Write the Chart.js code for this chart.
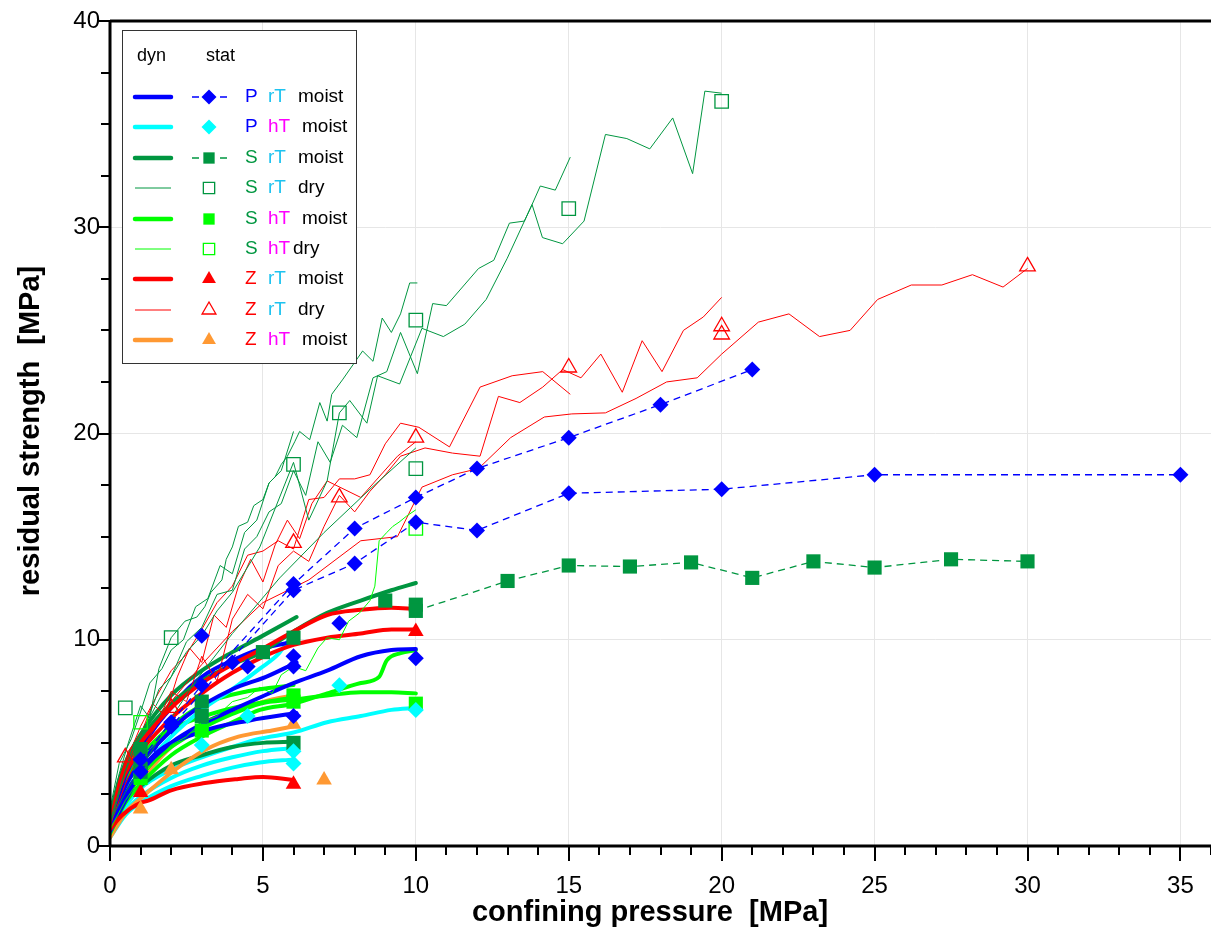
<!DOCTYPE html>
<html>
<head>
<meta charset="utf-8">
<title>residual strength</title>
<script src="https://cdn.jsdelivr.net/npm/chart.js@4.4.1/dist/chart.umd.min.js"></script>
<style>
    html, body { margin: 0; padding: 0; background: #fff; }
    #chartRest { display: block; }
</style>
</head>
<body>
<canvas id="chartRest" width="1211" height="930"></canvas>
<script>
// Achsen
const xMin = 0, xMax = 36;
const yMin = 0, yMax = 40;

// statische Versuche (Marker), [Manteldruck, Reststaerke]
const pRtMoistA = [[1, 4.2], [3, 7.8], [6, 12.7], [8, 15.4], [10, 16.9], [12, 18.3], [15, 19.8], [18, 21.4], [21, 23.1]];
const pRtMoistB = [[1, 3.6], [2, 5.8], [6, 12.4], [8, 13.7], [10, 15.7], [12, 15.3], [15, 17.1], [20, 17.3], [25, 18.0], [35, 18.0]];
const pRtMoistPts = [[2, 6.0], [3, 10.2], [4, 8.9], [4.5, 8.7], [6, 9.2], [6, 8.7], [6, 6.3], [7.5, 10.8], [10, 9.1]];
const pHtMoistPts = [[3, 4.9], [4.5, 6.3], [6, 4.6], [6, 4.0], [7.5, 7.8], [10, 6.6]];
const sRtMoistA = [[10, 11.4], [13, 12.85], [15, 13.6], [17, 13.55], [19, 13.75], [21, 13.0], [23, 13.8], [25, 13.5], [27.5, 13.9], [30, 13.8]];
const sRtMoistPts = [[1, 4.7], [1, 4.0], [1, 3.6], [3, 7.0], [3, 6.3], [5, 9.4], [6, 10.1], [6, 5.0], [9, 11.9], [10, 11.7]];
const sRtDryPts = [[0.5, 6.7], [2, 10.1], [6, 18.5], [7.5, 21.0], [10, 25.5], [10, 18.3], [15, 30.9], [20, 36.1]];
const sHtMoistPts = [[1, 3.3], [3, 5.6], [6, 7.3], [6, 7.0], [10, 6.9]];
const sHtDryPts = [[1, 6.0], [10, 15.4]];
const zRtMoistPts = [[1, 2.6], [6, 3.0], [10, 10.4]];
const zRtDryPts = [[0.5, 4.3], [2, 6.7], [6, 14.7], [7.5, 16.9], [10, 19.8], [15, 23.2], [20, 25.2], [20, 24.8], [30, 28.1]];
const zHtMoistPts = [[1, 1.8], [2, 3.7], [6, 5.9], [7, 3.2]];

// dynamische Versuche, feucht (dicke Linien)
const pRtDyn1 = [[0, 0.8], [0.5, 2.5], [1, 3.6], [2, 5.0], [3, 5.9], [4, 6.6], [4.9, 7.2], [6, 7.9], [7.1, 8.5], [8.2, 9.2], [9.2, 9.5], [10, 9.55]];
const pRtDyn2 = [[0, 1.1], [0.5, 3.4], [1, 4.7], [1.5, 5.8], [2, 6.7], [2.6, 7.7], [3.2, 8.4], [4, 9.0], [4.8, 9.5], [6, 9.9]];
const pRtDyn3 = [[0, 0.9], [0.5, 2.9], [1, 4.0], [2, 5.6], [2.5, 6.3], [4, 7.6], [5.1, 8.2], [6.1, 8.9]];
const pRtDyn4 = [[0, 0.7], [0.5, 2.2], [1.3, 4.2], [2.9, 5.5], [4.6, 6.1], [6.1, 6.45]];
const pHtDyn1 = [[0, 0.5], [0.5, 1.9], [1, 2.8], [2, 3.7], [3, 4.3], [4, 4.8], [4.9, 5.2], [6, 5.5], [7.1, 6.0], [8.2, 6.3], [9.2, 6.6], [10, 6.7]];
const pHtDyn2 = [[0, 0.4], [0.5, 1.5], [1, 2.1], [2, 2.9], [3, 3.4], [4, 3.8], [4.9, 4.05], [6, 4.2]];
const pHtDyn3 = [[0, 0.5], [0.5, 1.7], [1, 2.4], [2, 3.3], [3, 3.9], [4, 4.3], [5, 4.6], [6, 4.75]];
const pHtDyn4 = [[0, 0.7], [0.5, 2.5], [1, 3.6], [2, 5.3], [3, 6.6], [4, 7.6], [4.9, 8.6], [5.5, 9.3], [5.8, 9.9]];
const sRtDyn1 = [[0, 1.4], [0.3, 3.2], [0.6, 4.3], [1, 5.2], [2, 6.9], [3, 8.0], [4, 8.8], [4.9, 9.35], [6, 10.4], [7.1, 11.3], [8.2, 11.9], [9.2, 12.4], [10, 12.75]];
const sRtDyn2 = [[0, 0.7], [0.5, 2.2], [1, 2.9], [2, 3.9], [3, 4.4], [4, 4.8], [5, 5.0], [6, 5.05]];
const sRtDyn3 = [[0, 1.5], [0.5, 4.0], [1, 5.4], [2, 7.3], [3, 8.5], [4, 9.4], [5, 10.2], [6.1, 11.1]];
const sHtDyn1 = [[0, 0.8], [0.5, 2.6], [1, 3.5], [2, 4.8], [3, 5.7], [4, 6.4], [4.9, 6.9], [6, 7.1], [7.1, 7.3], [8.2, 7.45], [9.2, 7.45], [10, 7.4]];
const sHtDyn2 = [[0, 0.6], [0.5, 2.1], [1, 3.0], [2, 4.4], [3, 5.3], [4, 6.0], [4.9, 6.6], [6, 6.9], [7.1, 7.4], [8.2, 7.9], [8.8, 8.2], [9.05, 9.0], [9.5, 9.35], [10, 9.5]];
const sHtDyn3 = [[0, 0.9], [0.5, 2.9], [1, 4.0], [2, 5.6], [3.1, 6.3], [4.2, 6.75], [6, 7.2]];
const sHtDyn4 = [[0, 1.0], [0.5, 3.1], [1, 4.3], [2, 5.8], [3.1, 6.9], [4.5, 7.5], [6, 7.8]];
const zRtDyn1 = [[0, 1.3], [0.3, 3.0], [0.6, 4.1], [1, 5.0], [2, 6.7], [3, 7.9], [4, 8.8], [4.9, 9.5], [6, 10.4], [7.1, 11.2], [8.2, 11.45], [9.2, 11.55], [10, 11.5]];
const zRtDyn2 = [[0, 1.2], [0.3, 2.8], [0.6, 3.8], [1, 4.6], [2, 6.2], [3, 7.4], [4, 8.4], [4.9, 9.1], [6, 9.75], [7.1, 10.1], [8.2, 10.3], [9.2, 10.5], [10, 10.5]];
const zRtDyn3 = [[0, 0.8], [0.4, 1.5], [1, 2.1], [1.25, 2.2], [2, 2.7], [3.1, 3.05], [4.2, 3.25], [5, 3.35], [6, 3.2]];
const zHtDyn1 = [[0, 0.6], [0.5, 2.3], [1, 3.2], [2, 4.8], [3.1, 6.0], [4.2, 6.6], [5.3, 7.1], [6, 7.3]];
const zHtDyn2 = [[0, 0.4], [0.5, 1.6], [1, 2.3], [2, 3.55], [3.1, 4.65], [4.2, 5.3], [5.3, 5.6], [6, 5.8]];

// dynamische Versuche, trocken (duenne Linien)
const sRtDry1 = [[0, 1.6], [0.3, 3.5], [0.6, 5.0], [1, 6.8], [1.3, 6.2], [1.6, 8.6], [2, 10.1], [2.45, 10.9], [2.84, 11.1], [3.1, 11.6], [3.3, 12.3], [3.66, 12.9], [3.8, 13.9], [4.0, 14.5], [4.2, 15.5], [4.5, 15.7], [4.7, 16.5], [5.0, 16.8], [5.2, 17.6], [5.4, 17.9], [5.6, 18.5], [5.8, 18.9], [6.04, 19.6], [6.2, 20.1], [6.53, 19.7], [6.86, 21.5], [7.1, 20.6], [7.25, 21.9], [7.6, 22.6], [8.26, 24.0], [8.6, 23.5], [8.9, 25.6], [9.2, 24.9], [9.5, 25.8], [9.8, 27.3], [10.05, 27.3]];
const sRtDry2 = [[0, 1.2], [0.4, 3.2], [0.8, 5.0], [1.2, 6.0], [1.6, 7.6], [2, 8.2], [2.5, 9.9], [3, 10.6], [3.5, 12.2], [4, 12.4], [4.4, 14.4], [4.8, 15.0], [5.2, 16.2], [5.6, 16.6], [6, 18.2], [6.4, 17.0], [6.8, 19.6], [7.2, 18.6], [7.6, 20.4], [8.07, 19.8], [8.6, 22.7], [9.05, 23.0], [9.5, 24.9], [10.05, 22.9], [10.55, 26.3], [11.0, 26.2], [12.05, 28.0], [12.55, 28.4], [13.06, 30.2], [13.55, 30.3], [13.8, 31.1], [14.07, 32.0], [14.56, 31.8], [15.05, 33.4]];
const sRtDry3 = [[0, 1.0], [0.5, 3.6], [1, 5.4], [1.5, 6.8], [2, 8.2], [2.5, 9.4], [3, 10.2], [3.5, 11.4], [4, 12.3], [4.9, 14.5], [6, 18.6], [6.5, 15.8], [7.1, 17.7], [7.5, 21.0], [7.84, 21.6], [8.4, 20.5], [8.75, 22.8], [9.47, 22.4], [10.2, 25.1], [10.9, 24.7], [11.6, 25.3], [12.3, 26.5], [12.99, 28.5], [13.8, 31.1], [14.14, 29.5], [14.8, 29.2], [15.5, 30.3], [16.2, 34.5], [16.9, 34.3], [17.65, 33.8], [18.4, 35.3], [19.05, 32.6], [19.45, 36.6], [20, 36.5]];
const sRtDry4 = [[0, 1.2], [0.5, 2.6], [1, 3.7], [2, 6.2], [2.8, 8.0], [4, 10.3], [5.55, 13.0], [7, 15.2], [8.5, 17.3], [10, 19.3]];
const sRtDry5 = [[0, 1.8], [0.3, 4.0], [0.7, 5.2], [1, 6.5], [1.3, 7.9], [1.7, 8.6], [2, 9.5], [2.4, 10.0], [2.8, 11.6], [3.2, 12.0], [3.6, 13.6], [4, 13.2], [4.4, 15.2], [4.8, 15.8], [5.2, 17.6], [5.6, 18.2], [6, 20.1]];
const sHtDry1 = [[0, 0.8], [0.5, 2.2], [1, 3.3], [1.5, 4.1], [2, 4.9], [2.5, 5.3], [3, 6.0], [3.5, 6.3], [4, 7.0], [4.5, 7.2], [4.9, 7.7], [5.3, 7.4], [5.6, 8.3], [6, 8.7], [6.4, 8.5], [6.8, 9.6], [7.1, 10.1], [7.5, 10.0], [7.8, 10.9], [8.16, 11.3], [8.5, 11.9], [8.66, 12.6], [8.8, 14.8], [9.05, 15.2], [9.25, 15.5], [9.45, 15.7], [9.7, 16.0], [10.0, 16.3]];
const zRtDry1 = [[0, 1.0], [0.5, 3.0], [1, 4.6], [2, 7.0], [3, 8.8], [4, 10.4], [5, 11.8], [6.5, 12.9], [8.2, 14.8], [9.4, 15.0], [10.2, 17.4], [11.2, 18.0], [12.05, 18.3], [13.1, 19.8], [14.2, 20.8], [15.1, 20.95], [16.2, 21.0], [17.2, 21.7], [18.2, 22.5], [19.2, 22.7], [20, 23.85], [21.2, 25.4], [22.2, 25.8], [23.2, 24.7], [24.2, 25.0], [25.1, 26.5], [26.2, 27.2], [27.2, 27.2], [28.2, 27.7], [29.2, 27.1], [30, 28.0]];
const zRtDry2 = [[0, 1.2], [0.5, 3.5], [1, 5.0], [1.5, 5.8], [2, 7.5], [2.5, 7.0], [3, 9.2], [3.5, 8.0], [4, 11.0], [4.5, 12.2], [5, 11.5], [5.5, 13.6], [6, 14.3], [6.5, 13.8], [7, 15.5], [7.5, 17.0], [8, 16.2], [8.5, 17.2], [9, 18.0], [9.5, 18.9], [10.3, 19.3], [11.2, 19.05], [12.1, 18.9], [12.7, 21.8], [13.4, 21.5], [14.15, 22.25], [14.8, 23.1], [15.4, 22.7], [16.05, 23.85], [16.75, 22.0], [17.4, 24.5], [18.05, 23.0], [18.75, 25.0], [19.4, 25.65], [20.0, 26.6]];
const zRtDry3 = [[0, 1.5], [0.5, 4.0], [1, 5.8], [1.5, 7.2], [2, 8.5], [2.5, 9.3], [3, 10.5], [3.5, 11.8], [4, 12.6], [4.5, 14.1], [5, 14.3], [5.5, 14.8], [6, 14.4], [6.5, 16.8], [7, 16.9], [7.5, 17.8], [8, 17.8], [8.5, 18.0], [9, 19.5], [9.5, 20.5], [10.1, 20.3], [11.1, 19.35], [12.1, 22.25], [13.15, 22.8], [14.15, 23.0], [15.05, 21.9]];
const zRtDry4 = [[0, 1.4], [0.3, 3.2], [0.6, 4.6], [1, 5.4], [1.4, 6.9], [1.8, 6.3], [2.2, 8.2], [2.6, 9.6], [3, 8.9], [3.4, 11.2], [3.8, 10.6], [4.2, 12.6], [4.6, 13.9], [5, 12.8], [5.4, 14.6], [5.8, 15.8], [6.2, 14.9], [6.6, 16.6], [7.1, 17.7], [8.2, 16.9], [9.4, 18.9], [10, 19.6]];

// Farben
const cBlue = '#0000ff';
const cCyan = '#00ffff';
const cGreen = '#009640';
const cLime = '#00ff00';
const cRed = '#ff0000';
const cOrange = '#ff9933';
const cRT = '#1ec3f0';
const cHT = '#ff00ff';

// Legende: Zeilen
const legendRows = [
    { line: cBlue, thick: true, style: 'rectRot', fill: cBlue, edge: cBlue, dash: cBlue, probe: 'P', probeColor: cBlue, temp: 'rT', state: 'moist' },
    { line: cCyan, thick: true, style: 'rectRot', fill: cCyan, edge: cCyan, dash: null, probe: 'P', probeColor: cBlue, temp: 'hT', state: 'moist' },
    { line: cGreen, thick: true, style: 'rect', fill: cGreen, edge: cGreen, dash: cGreen, probe: 'S', probeColor: cGreen, temp: 'rT', state: 'moist' },
    { line: cGreen, thick: false, style: 'rect', fill: '#fff', edge: cGreen, dash: null, probe: 'S', probeColor: cGreen, temp: 'rT', state: 'dry' },
    { line: cLime, thick: true, style: 'rect', fill: cLime, edge: cLime, dash: null, probe: 'S', probeColor: cGreen, temp: 'hT', state: 'moist' },
    { line: cLime, thick: false, style: 'rect', fill: '#fff', edge: cLime, dash: null, probe: 'S', probeColor: cGreen, temp: 'hT', state: 'dry' },
    { line: cRed, thick: true, style: 'triangle', fill: cRed, edge: cRed, dash: null, probe: 'Z', probeColor: cRed, temp: 'rT', state: 'moist' },
    { line: cRed, thick: false, style: 'triangle', fill: '#fff', edge: cRed, dash: null, probe: 'Z', probeColor: cRed, temp: 'rT', state: 'dry' },
    { line: cOrange, thick: true, style: 'triangle', fill: cOrange, edge: cOrange, dash: null, probe: 'Z', probeColor: cRed, temp: 'hT', state: 'moist' }
];

const toPts = arr => arr.map(p => ({ x: p[0], y: p[1] }));

function dynLine(data, color) {
    return {
        data: toPts(data), showLine: true, borderColor: color, borderWidth: 4,
        pointRadius: 0, cubicInterpolationMode: 'monotone',
        borderCapStyle: 'round', borderJoinStyle: 'round', order: 3
    };
}

function dryLine(data, color) {
    return {
        data: toPts(data), showLine: true, borderColor: color, borderWidth: 1,
        pointRadius: 0, tension: 0, order: 2
    };
}

function marks(data, color, style, filled, radius) {
    return {
        data: toPts(data), showLine: false, pointStyle: style,
        pointRadius: radius, borderWidth: filled ? 0 : 1.3,
        pointBackgroundColor: filled ? color : 'rgba(255,255,255,0)',
        pointBorderColor: color, order: 1
    };
}

function dashedMarks(data, color, style, radius) {
    const ds = marks(data, color, style, true, radius);
    ds.showLine = true;
    ds.borderColor = color;
    ds.borderWidth = 1.3;
    ds.borderDash = [7, 5];
    ds.tension = 0;
    ds.pointBorderWidth = 0;
    return ds;
}

// Achsen, Teilstriche, Titel und Legende
const rahmenPlugin = {
    id: 'rahmen',
    afterDraw(chart) {
        const ctx = chart.ctx;
        const a = chart.chartArea;
        const xs = chart.scales.x, ys = chart.scales.y;
        ctx.save();

        // Teilstriche
        ctx.strokeStyle = '#000';
        ctx.lineWidth = 2;
        ctx.beginPath();
        for (let v = xMin; v <= xMax; v++) {
            const px = Math.round(xs.getPixelForValue(v));
            const len = v % 5 === 0 ? 15 : 9;
            ctx.moveTo(px, a.bottom); ctx.lineTo(px, a.bottom + len);
        }
        for (let v = yMin; v <= yMax; v += 2.5) {
            const py = Math.round(ys.getPixelForValue(v));
            const len = v % 10 === 0 ? 13 : 9;
            ctx.moveTo(a.left, py); ctx.lineTo(a.left - len, py);
        }
        ctx.stroke();

        // Achslinien
        ctx.lineWidth = 3;
        ctx.beginPath();
        ctx.moveTo(a.left, a.bottom); ctx.lineTo(a.right, a.bottom);
        ctx.moveTo(a.left, a.top); ctx.lineTo(a.left, a.bottom);
        ctx.moveTo(a.left, a.top); ctx.lineTo(a.right, a.top);
        ctx.stroke();

        // Achsentitel
        ctx.fillStyle = '#000';
        ctx.font = 'bold 29px "Liberation Sans", Arial, sans-serif';
        ctx.textAlign = 'center';
        ctx.textBaseline = 'middle';
        ctx.fillText('confining pressure  [MPa]', 650, 913);
        ctx.translate(31, 431);
        ctx.rotate(-Math.PI / 2);
        ctx.fillText('residual strength  [MPa]', 0, 0);
        ctx.setTransform(1, 0, 0, 1, 0, 0);

        // Legende
        ctx.fillStyle = '#fff';
        ctx.fillRect(122, 30, 235, 334);
        ctx.strokeStyle = '#333';
        ctx.lineWidth = 1;
        ctx.strokeRect(122.5, 30.5, 234, 333);

        ctx.fillStyle = '#000';
        ctx.textAlign = 'left';
        ctx.font = '18px "Liberation Sans", Arial, sans-serif';
        ctx.fillText('dyn', 137, 56);
        ctx.fillText('stat', 206, 56);

        ctx.font = '19px "Liberation Sans", Arial, sans-serif';
        legendRows.forEach((row, i) => {
            const y = Math.round(97 + i * 30.4);
            ctx.strokeStyle = row.line;
            ctx.lineWidth = row.thick ? 4.5 : 1;
            ctx.lineCap = row.thick ? 'round' : 'butt';
            ctx.beginPath();
            ctx.moveTo(135, y); ctx.lineTo(171, y);
            ctx.stroke();

            if (row.dash) {
                ctx.strokeStyle = row.dash;
                ctx.lineWidth = 1.3;
                ctx.lineCap = 'butt';
                ctx.beginPath();
                ctx.moveTo(192, y); ctx.lineTo(199, y);
                ctx.moveTo(220, y); ctx.lineTo(227, y);
                ctx.stroke();
            }

            ctx.fillStyle = row.fill;
            ctx.strokeStyle = row.edge;
            ctx.lineWidth = 1.3;
            const filled = row.fill !== '#fff';
            const r = row.style === 'rectRot' ? 7.5 : 8;
            Chart.helpers.drawPoint(ctx, {
                pointStyle: row.style, radius: r, rotation: 0,
                borderWidth: filled ? 0 : 1.3
            }, 209, y);

            ctx.fillStyle = row.probeColor;
            ctx.fillText(row.probe, 245, y);
            ctx.fillStyle = row.temp === 'rT' ? cRT : cHT;
            ctx.fillText(row.temp, 268, y);
            ctx.fillStyle = '#000';
            let wx = 298;
            if (row.temp === 'hT') wx = row.state === 'dry' ? 293 : 302;
            ctx.fillText(row.state, wx, y);
        });

        ctx.restore();
    }
};

document.addEventListener('DOMContentLoaded', function() {
    const datasets = [
        // statisch
        dashedMarks(pRtMoistA, cBlue, 'rectRot', 8),
        dashedMarks(pRtMoistB, cBlue, 'rectRot', 8),
        marks(pRtMoistPts, cBlue, 'rectRot', true, 8),
        marks(pHtMoistPts, cCyan, 'rectRot', true, 8),
        dashedMarks(sRtMoistA, cGreen, 'rect', 10),
        marks(sRtMoistPts, cGreen, 'rect', true, 10),
        marks(sRtDryPts, cGreen, 'rect', false, 9.5),
        marks(sHtMoistPts, cLime, 'rect', true, 10),
        marks(sHtDryPts, cLime, 'rect', false, 9.5),
        marks(zRtMoistPts, cRed, 'triangle', true, 9),
        marks(zRtDryPts, cRed, 'triangle', false, 9),
        marks(zHtMoistPts, cOrange, 'triangle', true, 9),

        // dynamisch trocken
        dryLine(sHtDry1, cLime),
        dryLine(sRtDry1, cGreen),
        dryLine(sRtDry2, cGreen),
        dryLine(sRtDry3, cGreen),
        dryLine(sRtDry4, cGreen),
        dryLine(sRtDry5, cGreen),
        dryLine(zRtDry1, cRed),
        dryLine(zRtDry2, cRed),
        dryLine(zRtDry3, cRed),
        dryLine(zRtDry4, cRed),

        // dynamisch feucht
        dynLine(zRtDyn1, cRed),
        dynLine(zRtDyn2, cRed),
        dynLine(zRtDyn3, cRed),
        dynLine(sRtDyn1, cGreen),
        dynLine(sRtDyn3, cGreen),
        dynLine(pRtDyn2, cBlue),
        dynLine(pRtDyn1, cBlue),
        dynLine(pRtDyn3, cBlue),
        dynLine(pRtDyn4, cBlue),
        dynLine(pHtDyn4, cCyan),
        dynLine(sHtDyn2, cLime),
        dynLine(sHtDyn4, cLime),
        dynLine(sHtDyn1, cLime),
        dynLine(sHtDyn3, cLime),
        dynLine(zHtDyn1, cOrange),
        dynLine(zHtDyn2, cOrange),
        dynLine(sRtDyn2, cGreen),
        dynLine(pHtDyn1, cCyan),
        dynLine(pHtDyn3, cCyan),
        dynLine(pHtDyn2, cCyan)
    ];

    const tickFont = { family: '"Liberation Sans", Arial, sans-serif', size: 24 };

    const ctx = document.getElementById('chartRest').getContext('2d');
    new Chart(ctx, {
        type: 'scatter',
        data: { datasets: datasets },
        options: {
            responsive: false,
            animation: false,
            events: [],
            layout: { autoPadding: false, padding: { top: 21, right: 0, left: 0, bottom: 0 } },
            plugins: {
                legend: { display: false },
                tooltip: { enabled: false }
            },
            scales: {
                x: {
                    type: 'linear',
                    min: xMin,
                    max: xMax,
                    afterFit: scale => {
                        scale.height = 84;
                        scale.paddingLeft = 0;
                        scale.paddingRight = 0;
                    },
                    border: { display: false },
                    grid: {
                        drawTicks: false,
                        color: c => (c.tick && c.tick.value % 5 === 0 && c.tick.value > 0) ? '#e6e6e6' : 'rgba(0,0,0,0)'
                    },
                    ticks: {
                        stepSize: 1,
                        autoSkip: false,
                        maxRotation: 0,
                        padding: 26,
                        color: '#000',
                        font: tickFont,
                        callback: v => (v % 5 === 0 && v <= 35) ? String(v) : ''
                    }
                },
                y: {
                    type: 'linear',
                    min: yMin,
                    max: yMax,
                    afterFit: scale => {
                        scale.width = 110;
                        scale.paddingTop = 0;
                        scale.paddingBottom = 0;
                    },
                    border: { display: false },
                    grid: {
                        drawTicks: false,
                        color: c => (c.tick && c.tick.value % 10 === 0 && c.tick.value > 0) ? '#e6e6e6' : 'rgba(0,0,0,0)'
                    },
                    ticks: {
                        stepSize: 2.5,
                        autoSkip: false,
                        padding: 10,
                        color: '#000',
                        font: tickFont,
                        callback: v => (v % 10 === 0) ? String(v) : ''
                    }
                }
            }
        },
        plugins: [rahmenPlugin]
    });
});
</script>
</body>
</html>
